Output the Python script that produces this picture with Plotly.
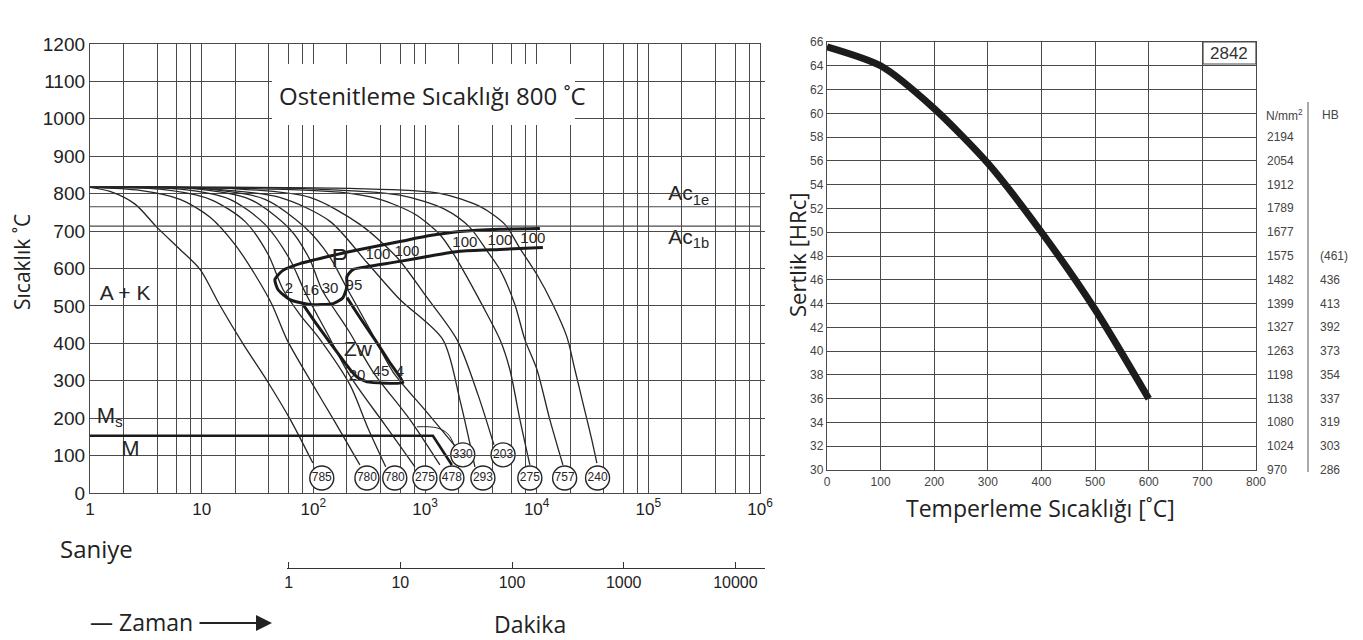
import plotly.graph_objects as go

# ---------------- CCT diagram data (time in s, temperature in °C) ----------------
curve_785_t = [1, 1.51, 2.53, 3.98, 6.4, 9.7, 14.6, 23.4, 38.5, 61.7, 99]
curve_785_T = [817, 806, 772, 710, 651, 597, 501, 399, 300, 198, 80]
curve_780a_t = [1, 2.8, 6.4, 11.9, 19.9, 30, 42.6, 58, 93, 156, 261]
curve_780a_T = [817, 809, 785, 737, 664, 584, 504, 410, 303, 190, 75]
curve_780b_t = [1, 4.2, 11.9, 24.4, 39.3, 53.5, 75.9, 115, 213, 308, 445]
curve_780b_T = [817, 812, 785, 726, 638, 544, 477, 410, 289, 174, 70]
curve_275a_t = [1, 6.4, 17.9, 36.9, 61.7, 84, 135, 213, 438, 813]
curve_275a_T = [817, 812, 785, 718, 624, 538, 423, 313, 182, 70]
curve_478_t = [1, 7.9, 27, 61.7, 93, 119, 204, 342, 733, 1358]
curve_478_T = [817, 814, 785, 705, 624, 544, 437, 324, 196, 75]
curve_330_t = [1, 9.7, 36.9, 84, 141, 196, 321, 516, 998, 1854]
curve_330_T = [817, 814, 785, 710, 630, 552, 437, 324, 222, 126]
curve_293_t = [1, 9.7, 50, 141, 302, 596, 1445, 2053, 2800]
curve_293_T = [817, 814, 790, 726, 616, 517, 410, 249, 70]
curve_203_t = [1, 17.9, 93, 261, 560, 998, 1932, 2980, 4140]
curve_203_T = [817, 814, 790, 718, 630, 530, 410, 263, 129]
curve_275b_t = [1, 27, 173, 394, 813, 1358, 1741, 2180, 3230, 4690, 5750, 7080, 8690]
curve_275b_T = [817, 814, 804, 785, 745, 691, 646, 597, 504, 410, 330, 196, 75]
curve_757_t = [1, 75.9, 596, 1507, 2520, 3580, 4690, 6380, 7840, 10050, 13120, 17180]
curve_757_T = [817, 814, 796, 758, 710, 648, 597, 504, 410, 330, 196, 75]
curve_240_t = [1, 213, 1358, 3100, 5190, 7080, 10050, 13960, 18620, 21980, 25940, 31190, 34590]
curve_240_T = [817, 814, 801, 766, 718, 654, 584, 504, 418, 330, 241, 142, 80]

# Pearlite (P) region outline
p_region_t = [10690, 4690, 2053, 1107, 596, 261, 150, 75.9, 53.5, 45.3, 48.2, 61.7, 93.3,
              150, 184, 200, 200, 226, 302, 596, 1177, 2053, 4690, 11370]
p_region_T = [707, 705, 699, 688, 672, 651, 635, 613, 595, 571, 544, 517, 504,
              506, 522, 552, 579, 597, 605, 619, 635, 646, 651, 656]
# Bainite (Zw) region outline
zw_t = [80.7, 103, 141, 192, 222, 251, 302, 634, 485, 356, 261, 200]
zw_T = [504, 458, 402, 348, 324, 308, 297, 295, 348, 410, 469, 522]
# Martensite start line
ms_t = [1, 1177, 1741]
ms_T = [153, 153, 75]
# leader line to circle 330
leader_t = [846, 1279, 1603, 1854]
leader_T = [177, 174, 158, 123]
# critical temperatures
ac1e_T = 765
ac1b_T = 713

# hardness circles at the end of cooling curves
circle_labels = ["785", "780", "780", "275", "478", "293", "275", "757", "240", "330", "203"]
circle_t = [119, 302, 536, 998, 1741, 3300, 8690, 17800, 35100, 2180, 5000]
circle_T = [40, 40, 40, 40, 40, 40, 40, 40, 40, 102, 102]

# phase percentage labels
pct_text = ["2", "16", "30", "95", "100", "100", "100", "100", "100", "20", "45", "4"]
pct_t = [60.5, 95, 141, 231, 379, 689, 2275, 4690, 9250, 246, 403, 596]
pct_T = [544, 538, 544, 552, 635, 643, 667, 672, 678, 313, 324, 324]

# region / line labels
lab_text = ["P", "Zw", "A + K", "M<sub>s</sub>", "M", "Ac<sub>1e</sub>", "Ac<sub>1b</sub>"]
lab_t = [173, 251, 2.06, 1.5, 2.3, 2.3e5, 2.3e5]
lab_T = [622, 380, 530, 203, 113, 796, 680]

# axis ticks
sec_grid_base = [1, 2, 4, 6, 8]
sec_decades = [1, 10, 100, 1000, 10000, 100000, 1000000]
sec_labels = ["1", "10", "10<sup>2</sup>", "10<sup>3</sup>", "10<sup>4</sup>", "10<sup>5</sup>", "10<sup>6</sup>"]
min_ticks = [1, 10, 100, 1000, 10000]
min_labels = ["1", "10", "100", "1000", "10000"]

# ---------------- Tempering diagram data ----------------
temper_T = [0, 100, 200, 300, 400, 500, 600]
temper_HRC = [65.6, 64.0, 60.4, 55.8, 50.0, 43.5, 36.0]
table_hrc_nmm = [58, 56, 54, 52, 50, 48, 46, 44, 42, 40, 38, 36, 34, 32, 30]
table_nmm = ["2194", "2054", "1912", "1789", "1677", "1575", "1482", "1399", "1327",
             "1263", "1198", "1138", "1080", "1024", "970"]
table_hrc_hb = [48, 46, 44, 42, 40, 38, 36, 34, 32, 30]
table_hb = ["(461)", "436", "413", "392", "373", "354", "337", "319", "303", "286"]

# ---------------- placement helpers (screen pixels -> paper) ----------------
OFF = 8                      # page body margin of the browser
FW, FH = 1363 - OFF, 640 - OFF

def PX(x):
    return (x - OFF) / FW

def PY(y):
    return 1 - (y - OFF) / FH

INK = "#262626"
GRID = "#4a4a4a"
TXT = "Open Sans"
NUM = "Liberation Sans"
NARROW = "Liberation Sans Narrow, Liberation Sans"

fig = go.Figure()

curves = [
    (curve_785_t, curve_785_T), (curve_780a_t, curve_780a_T), (curve_780b_t, curve_780b_T),
    (curve_275a_t, curve_275a_T), (curve_478_t, curve_478_T), (curve_330_t, curve_330_T),
    (curve_293_t, curve_293_T), (curve_203_t, curve_203_T), (curve_275b_t, curve_275b_T),
    (curve_757_t, curve_757_T), (curve_240_t, curve_240_T),
]
for ct, cT in curves:
    fig.add_trace(go.Scatter(x=ct, y=cT, mode="lines",
                             line=dict(color=INK, width=1.3, shape="spline", smoothing=0.8),
                             hoverinfo="skip", showlegend=False, xaxis="x", yaxis="y"))

for val in (ac1e_T, ac1b_T):
    fig.add_trace(go.Scatter(x=[1, 1e6], y=[val, val], mode="lines", line=dict(color=GRID, width=1.2),
                             hoverinfo="skip", showlegend=False, xaxis="x", yaxis="y"))

fig.add_trace(go.Scatter(x=p_region_t, y=p_region_T, mode="lines",
                         line=dict(color="#1a1a1a", width=3, shape="spline", smoothing=0.6),
                         hoverinfo="skip", showlegend=False, xaxis="x", yaxis="y"))
fig.add_trace(go.Scatter(x=zw_t, y=zw_T, mode="lines",
                         line=dict(color="#1a1a1a", width=3, shape="spline", smoothing=0.4),
                         hoverinfo="skip", showlegend=False, xaxis="x", yaxis="y"))
fig.add_trace(go.Scatter(x=ms_t, y=ms_T, mode="lines", line=dict(color="#1a1a1a", width=2.6),
                         hoverinfo="skip", showlegend=False, xaxis="x", yaxis="y"))
fig.add_trace(go.Scatter(x=leader_t, y=leader_T, mode="lines",
                         line=dict(color=INK, width=1, shape="spline"),
                         hoverinfo="skip", showlegend=False, xaxis="x", yaxis="y"))

fig.add_trace(go.Scatter(x=circle_t, y=circle_T, mode="markers+text", text=circle_labels,
                         textposition="middle center",
                         textfont=dict(family=NARROW, size=12, color=INK),
                         marker=dict(symbol="circle", size=24, color="white", line=dict(color=INK, width=1.4)),
                         hoverinfo="skip", showlegend=False, cliponaxis=False, xaxis="x", yaxis="y"))

fig.add_trace(go.Scatter(x=pct_t, y=pct_T, mode="text", text=pct_text, textposition="middle center",
                         textfont=dict(family=NARROW, size=15, color=INK),
                         hoverinfo="skip", showlegend=False, xaxis="x", yaxis="y"))

fig.add_trace(go.Scatter(x=lab_t, y=lab_T, mode="text", text=lab_text, textposition="middle center",
                         textfont=dict(family=NUM, size=[25, 21, 21, 22, 22, 21, 21], color=INK),
                         hoverinfo="skip", showlegend=False, xaxis="x", yaxis="y"))

# invisible trace so that the minutes axis is drawn
fig.add_trace(go.Scatter(x=[1, 10000], y=[-500, -500], mode="lines", line=dict(color="rgba(0,0,0,0)"),
                         hoverinfo="skip", showlegend=False, xaxis="x3", yaxis="y"))

fig.add_trace(go.Scatter(x=temper_T, y=temper_HRC, mode="lines",
                         line=dict(color="#1c1c1c", width=7, shape="spline", smoothing=0.7),
                         hoverinfo="skip", showlegend=False, xaxis="x2", yaxis="y2"))

grid_vals = []
grid_text = []
for i, d in enumerate(sec_decades):
    bases = sec_grid_base if d < 1000000 else [1]
    for b in bases:
        grid_vals.append(b * d)
        grid_text.append(sec_labels[i] if b == 1 else "")

fig.update_layout(
    width=FW, height=FH, margin=dict(l=0, r=0, t=0, b=0),
    paper_bgcolor="white", plot_bgcolor="rgba(0,0,0,0)",
    xaxis=dict(type="log", range=[0, 6], domain=[PX(90), PX(760)], anchor="y", tickvals=grid_vals,
               ticktext=grid_text, showgrid=True, gridcolor=GRID, gridwidth=1.1, showline=True, mirror=True,
               linecolor=GRID, linewidth=1.3, ticks="", zeroline=False,
               tickfont=dict(family=NUM, size=17, color="#222"), automargin=False),
    yaxis=dict(range=[0, 1200], domain=[PY(493), PY(44)], anchor="x", dtick=100, showgrid=True,
               gridcolor=GRID, gridwidth=1.1, showline=True, mirror=True, linecolor=GRID, linewidth=1.3,
               ticks="", zeroline=False, tickfont=dict(family=NUM, size=19, color="#222"), automargin=False),
    xaxis3=dict(type="log", range=[-0.0147, 4.265], domain=[PX(287), PX(765)], anchor="free",
                position=PY(568), tickvals=min_ticks, ticktext=min_labels, showgrid=False, showline=True,
                linecolor="#333", linewidth=1.4, ticks="inside", ticklen=6, tickcolor="#333",
                zeroline=False, tickfont=dict(family=NUM, size=16, color="#222"), automargin=False),
    xaxis2=dict(range=[0, 800], domain=[PX(827), PX(1256)], anchor="y2", dtick=100, showgrid=True,
                gridcolor=GRID, gridwidth=1.1, showline=True, mirror=True, linecolor=GRID, linewidth=1.3,
                ticks="", zeroline=False, tickfont=dict(family=NUM, size=12, color="#444"), automargin=False),
    yaxis2=dict(range=[30, 66], domain=[PY(470), PY(42)], anchor="x2", dtick=2, showgrid=True,
                gridcolor=GRID, gridwidth=1.1, showline=True, mirror=True, linecolor=GRID, linewidth=1.3,
                ticks="", zeroline=False, tickfont=dict(family=NUM, size=12, color="#444"), automargin=False),
)

# white box behind the title (drawn above the grid, under the annotation text)
fig.add_shape(type="rect", xref="paper", yref="paper", x0=PX(272), x1=PX(575), y0=PY(125), y1=PY(64),
              fillcolor="white", line=dict(width=0), layer="above")
# "2842" box
fig.add_shape(type="rect", xref="paper", yref="paper", x0=PX(1203), x1=PX(1256), y0=PY(64), y1=PY(42),
              fillcolor="white", line=dict(color=GRID, width=1.2), layer="above")
# table separator
fig.add_shape(type="line", xref="paper", yref="paper", x0=PX(1308), x1=PX(1308), y0=PY(102), y1=PY(472),
              line=dict(color="#555", width=1))

ann = []
def A(text, x, y, size, family=TXT, color="#222", xanchor="center", angle=0, yref="paper", yv=None):
    ann.append(dict(text=text, x=PX(x), y=(PY(y) if yv is None else yv), xref="paper", yref=yref,
                    showarrow=False, xanchor=xanchor, yanchor="middle", textangle=angle,
                    font=dict(family=family, size=size, color=color)))

A("Ostenitleme Sıcaklığı 800 ˚C", 432, 96, 24)
A("Sıcaklık ˚C", 22, 262, 21, angle=-90)
A("Saniye", 58, 548, 24, xanchor="left")
A("Dakika", 530, 624, 23)
A("— Zaman", 88, 622, 23, xanchor="left")
A("Temperleme Sıcaklığı [˚C]", 1040, 508, 23)
A("Sertlik [HRc]", 797, 255, 22, angle=-90)
A("2842", 1229, 53, 17, family=NUM, color="#333")
A("N/mm<sup>2</sup>", 1264, 115, 12, family=NUM, color="#444", xanchor="left")
A("HB", 1320, 115, 12, family=NUM, color="#444", xanchor="left")
for h, s in zip(table_hrc_nmm, table_nmm):
    A(s, 1265, 0, 12, family=NUM, color="#444", xanchor="left", yref="y2", yv=h)
for h, s in zip(table_hrc_hb, table_hb):
    A(s, 1318, 0, 12, family=NUM, color="#444", xanchor="left", yref="y2", yv=h)

ann.append(dict(text="", x=PX(272), y=PY(623), ax=-74, ay=0, xref="paper", yref="paper",
                axref="pixel", ayref="pixel", showarrow=True, arrowhead=2, arrowsize=1.6, arrowwidth=2,
                arrowcolor="#222"))
fig.update_layout(annotations=ann)

fig.write_html("out.html")
